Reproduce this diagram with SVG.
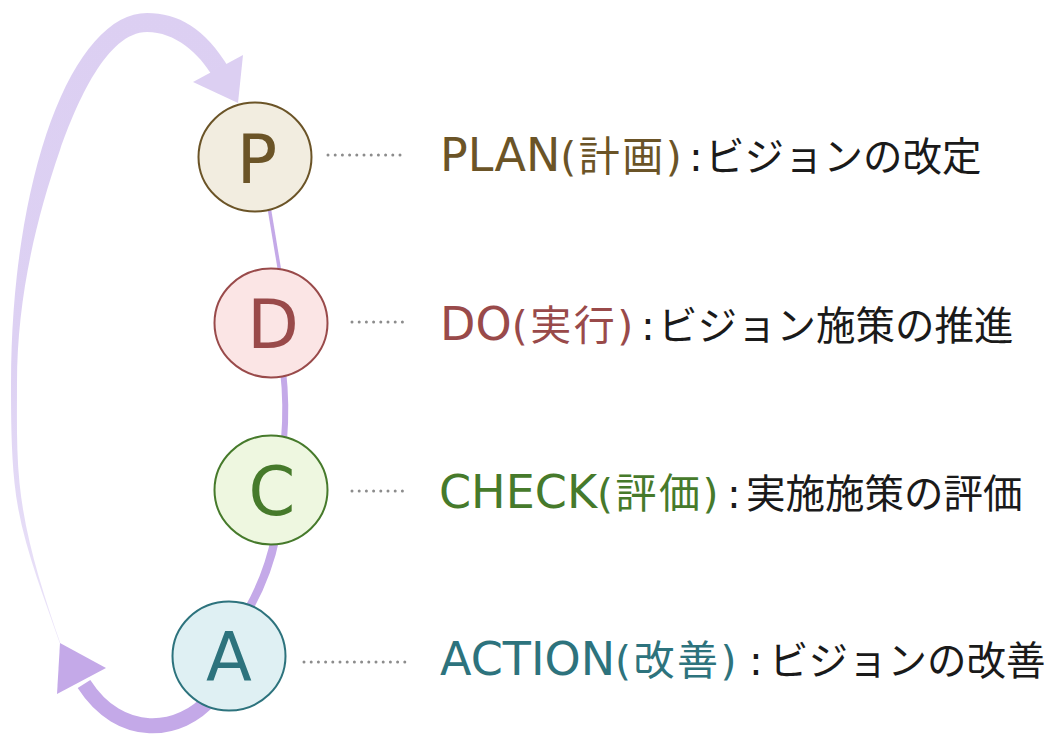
<svg xmlns="http://www.w3.org/2000/svg" width="1045" height="735" viewBox="0 0 1045 735">
<defs>
<linearGradient id="loopGrad" gradientUnits="userSpaceOnUse" x1="0" y1="0" x2="0" y2="650">
<stop offset="0" stop-color="#dccff2"/>
<stop offset="0.55" stop-color="#ddd1f3"/>
<stop offset="1" stop-color="#ebe4f9"/>
</linearGradient>
</defs>
<style>
.chain{fill:none;stroke:#c4a9e8;stroke-linecap:butt}
.lead{fill:none;stroke:#8c8c8c;stroke-width:3;stroke-dasharray:0 7.2;stroke-linecap:round}
.node{stroke-width:2}
.letter{font-family:"DejaVu Sans","Noto Sans",sans-serif;font-size:67px;text-anchor:middle}
.label{font-family:"DejaVu Sans","Noto Sans CJK JP",sans-serif;font-size:41px}
.lat{font-size:46px}
.par{letter-spacing:2.5px}
.jp{font-family:"Noto Sans CJK JP",sans-serif;font-size:39.5px;fill:#1a1a1a}
.col{font-family:"DejaVu Sans","Noto Sans CJK JP",sans-serif;fill:#1a1a1a}
</style>
<rect width="1045" height="735" fill="#ffffff"/>
<g id="connectors">
<path d="M 59.7 643 C 42 591, 20 538, 14.5 483 C 11.2 450, 11 416, 11 383 A 136 370 0 0 1 147 13 C 178 13, 205 28, 229 68 L 213 77 C 199 53, 175 32, 147 32 C 107 32, 76.5 103, 60 150 C 34 225, 17 303, 17 383 C 17 416, 16.2 450, 19.5 483 C 25 538, 42.3 591, 60.3 643 Z" fill="url(#loopGrad)"/>
<polygon points="238,103 193,82 243,55" fill="#dccff2"/>
<path class="chain" d="M 267 195 L 282 285" stroke-width="3.5"/>
<path class="chain" d="M 283 370 Q 287 405 284 440" stroke-width="6"/>
<path class="chain" d="M 276 535 Q 268 575 248 610" stroke-width="8.5"/>
<path class="chain" d="M 212 697 C 180 735, 120 740, 84 684" stroke-width="15"/>
<polygon points="60,643 106,668 57,694" fill="#c4a9e8"/>
<line class="lead" x1="328" y1="155" x2="406" y2="155"/>
<line class="lead" x1="352" y1="322" x2="406" y2="322"/>
<line class="lead" x1="352" y1="491" x2="406" y2="491"/>
<line class="lead" x1="304" y1="662" x2="406" y2="662"/>
</g>
<g id="node-P">
<ellipse class="node" cx="255" cy="157" rx="56.5" ry="54.5" fill="#f2ede0" stroke="#6b5427"/>
<text class="letter" x="257" y="183" fill="#6b5427">P</text>
<text class="label" y="171" fill="#6b5427"><tspan class="lat" x="440">PLAN</tspan><tspan class="par">(計画)</tspan><tspan class="col" x="689">:</tspan><tspan class="jp" x="705">ビジョンの改定</tspan></text>
</g>
<g id="node-D">
<ellipse class="node" cx="271" cy="323" rx="56.5" ry="54.5" fill="#fbe5e5" stroke="#994a4a"/>
<text class="letter" x="273" y="348" fill="#994a4a">D</text>
<text class="label" y="340" fill="#994a4a"><tspan class="lat" x="440">DO</tspan><tspan class="par">(実行)</tspan><tspan class="col" x="641">:</tspan><tspan class="jp" x="658">ビジョン施策の推進</tspan></text>
</g>
<g id="node-C">
<ellipse class="node" cx="271" cy="490" rx="56.5" ry="54.5" fill="#eef7e0" stroke="#467a2b"/>
<text class="letter" x="272" y="515" fill="#467a2b">C</text>
<text class="label" y="508" fill="#467a2b"><tspan class="lat" x="439">CHECK</tspan><tspan class="par">(評価)</tspan><tspan class="col" x="727">:</tspan><tspan class="jp" x="746">実施施策の評価</tspan></text>
</g>
<g id="node-A">
<ellipse class="node" cx="229" cy="656" rx="56.5" ry="54.5" fill="#dff0f3" stroke="#2d737d"/>
<text class="letter" x="229" y="681" fill="#2d737d">A</text>
<text class="label" y="675" fill="#2d737d"><tspan class="lat" x="440">ACTION</tspan><tspan class="par">(改善)</tspan><tspan class="col" x="749">:</tspan><tspan class="jp" x="769">ビジョンの改善</tspan></text>
</g>
</svg>
